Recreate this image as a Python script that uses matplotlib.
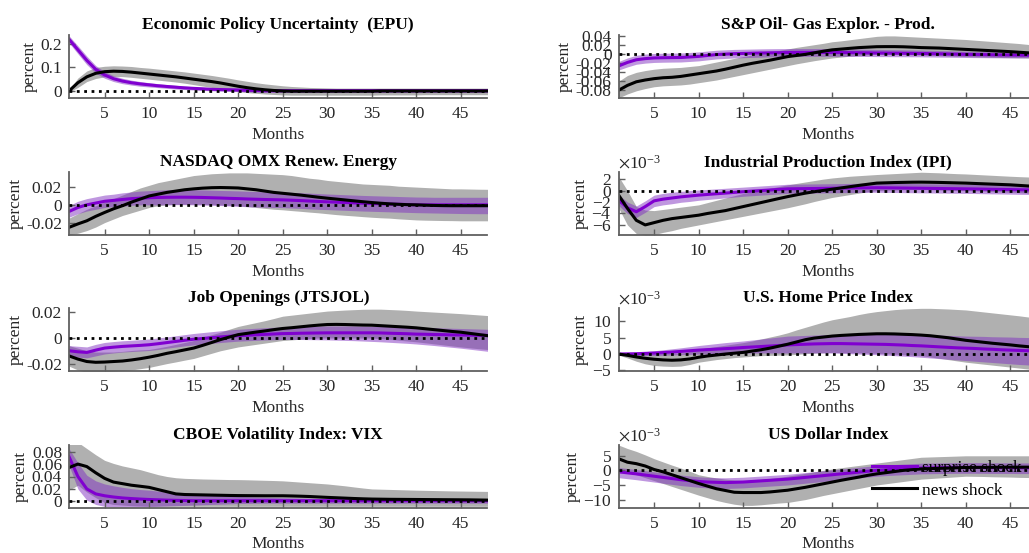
import matplotlib
matplotlib.use("Agg")
import matplotlib.pyplot as plt
import numpy as np
from matplotlib.ticker import FuncFormatter, ScalarFormatter

plt.rcParams['font.family'] = ['Liberation Serif', 'DejaVu Serif']
plt.rcParams['mathtext.fontset'] = 'stix'
plt.rcParams['axes.unicode_minus'] = False

months = np.arange(1, 49)

# ---- Economic Policy Uncertainty (EPU)
epu_news = [0.000, 0.035, 0.060, 0.075, 0.082, 0.084, 0.083, 0.080,
            0.076, 0.072, 0.068, 0.064, 0.060, 0.055, 0.050, 0.045,
            0.040, 0.034, 0.027, 0.020, 0.014, 0.009, 0.005, 0.002,
            0.000, -0.001, -0.001, -0.001, -0.001, -0.001, -0.001, -0.001,
            -0.001, -0.001, -0.001, 0.000, 0.000, 0.000, 0.000, 0.000,
            0.000, 0.000, 0.000, 0.000, 0.000, 0.000, 0.000, 0.000]
epu_news_hi = [0.005, 0.055, 0.085, 0.100, 0.105, 0.107, 0.106, 0.104,
               0.100, 0.097, 0.093, 0.089, 0.085, 0.081, 0.076, 0.071,
               0.066, 0.060, 0.054, 0.047, 0.041, 0.035, 0.030, 0.026,
               0.022, 0.019, 0.017, 0.015, 0.014, 0.013, 0.012, 0.012,
               0.012, 0.012, 0.012, 0.012, 0.012, 0.012, 0.012, 0.012,
               0.012, 0.012, 0.012, 0.012, 0.012, 0.012, 0.012, 0.012]
epu_news_lo = [-0.005, 0.015, 0.040, 0.053, 0.060, 0.062, 0.061, 0.058,
               0.054, 0.050, 0.046, 0.042, 0.038, 0.033, 0.027, 0.021,
               0.015, 0.010, 0.004, -0.002, -0.007, -0.010, -0.013, -0.015,
               -0.017, -0.018, -0.018, -0.018, -0.018, -0.018, -0.018, -0.018,
               -0.018, -0.018, -0.018, -0.017, -0.017, -0.017, -0.017, -0.017,
               -0.016, -0.016, -0.016, -0.016, -0.016, -0.016, -0.016, -0.016]
epu_surp = [0.220, 0.175, 0.130, 0.092, 0.068, 0.052, 0.042, 0.035,
            0.030, 0.026, 0.022, 0.019, 0.016, 0.013, 0.011, 0.009,
            0.007, 0.006, 0.005, 0.004, 0.003, 0.002, 0.001, 0.001,
            0.001, 0.001, 0.001, 0.001, 0.001, 0.001, 0.001, 0.001,
            0.001, 0.001, 0.001, 0.001, 0.001, 0.001, 0.001, 0.001,
            0.001, 0.001, 0.001, 0.001, 0.001, 0.001, 0.001, 0.001]
epu_surp_hi = [0.235, 0.192, 0.148, 0.108, 0.082, 0.065, 0.054, 0.046,
               0.040, 0.035, 0.031, 0.027, 0.024, 0.021, 0.018, 0.016,
               0.014, 0.013, 0.012, 0.011, 0.010, 0.009, 0.009, 0.008,
               0.008, 0.008, 0.008, 0.008, 0.008, 0.008, 0.008, 0.008,
               0.008, 0.008, 0.008, 0.008, 0.008, 0.008, 0.008, 0.008,
               0.008, 0.008, 0.008, 0.008, 0.008, 0.008, 0.008, 0.008]
epu_surp_lo = [0.205, 0.158, 0.112, 0.076, 0.054, 0.040, 0.031, 0.025,
               0.020, 0.017, 0.014, 0.011, 0.008, 0.006, 0.004, 0.002,
               0.001, -0.001, -0.002, -0.003, -0.004, -0.005, -0.006, -0.006,
               -0.006, -0.006, -0.006, -0.006, -0.006, -0.006, -0.006, -0.006,
               -0.006, -0.006, -0.006, -0.006, -0.006, -0.006, -0.006, -0.006,
               -0.006, -0.006, -0.006, -0.006, -0.006, -0.006, -0.006, -0.006]

# ---- NASDAQ OMX Renewable Energy
nas_news = [-0.0254, -0.0215, -0.0180, -0.0130, -0.0086, -0.0045, -0.0010, 0.0030,
            0.0065, 0.0100, 0.0120, 0.0140, 0.0155, 0.0170, 0.0180, 0.0188,
            0.0193, 0.0195, 0.0193, 0.0190, 0.0180, 0.0170, 0.0155, 0.0140,
            0.0130, 0.0120, 0.0110, 0.0098, 0.0086, 0.0075, 0.0065, 0.0055,
            0.0045, 0.0035, 0.0026, 0.0018, 0.0011, 0.0006, 0.0002, 0.0000,
            -0.0004, -0.0007, -0.0009, -0.0010, -0.0010, -0.0010, -0.0010, -0.0010]
nas_news_hi = [-0.0150, -0.0100, -0.0050, -0.0010, 0.0030, 0.0070, 0.0110, 0.0150,
               0.0190, 0.0220, 0.0250, 0.0270, 0.0290, 0.0310, 0.0330, 0.0340,
               0.0350, 0.0355, 0.0360, 0.0360, 0.0360, 0.0355, 0.0350, 0.0345,
               0.0340, 0.0330, 0.0315, 0.0300, 0.0290, 0.0275, 0.0265, 0.0255,
               0.0245, 0.0235, 0.0230, 0.0225, 0.0220, 0.0210, 0.0205, 0.0200,
               0.0195, 0.0190, 0.0185, 0.0180, 0.0180, 0.0178, 0.0176, 0.0175]
nas_news_lo = [-0.0340, -0.0320, -0.0290, -0.0250, -0.0200, -0.0160, -0.0120, -0.0090,
               -0.0060, -0.0030, -0.0010, 0.0000, 0.0005, 0.0007, 0.0007, 0.0005,
               0.0003, 0.0000, -0.0005, -0.0010, -0.0020, -0.0030, -0.0040, -0.0050,
               -0.0056, -0.0065, -0.0073, -0.0082, -0.0090, -0.0100, -0.0110, -0.0118,
               -0.0125, -0.0133, -0.0140, -0.0146, -0.0150, -0.0158, -0.0164, -0.0170,
               -0.0173, -0.0175, -0.0177, -0.0178, -0.0180, -0.0180, -0.0180, -0.0180]
nas_surp = [-0.0075, -0.0030, 0.0000, 0.0020, 0.0040, 0.0050, 0.0060, 0.0070,
            0.0075, 0.0080, 0.0083, 0.0085, 0.0086, 0.0086, 0.0085, 0.0083,
            0.0080, 0.0077, 0.0073, 0.0070, 0.0066, 0.0063, 0.0060, 0.0058,
            0.0056, 0.0052, 0.0048, 0.0043, 0.0038, 0.0034, 0.0030, 0.0026,
            0.0022, 0.0018, 0.0015, 0.0012, 0.0009, 0.0006, 0.0003, 0.0000,
            0.0000, 0.0000, 0.0000, 0.0000, 0.0000, 0.0000, 0.0000, 0.0000]
nas_surp_hi = [-0.0010, 0.0040, 0.0070, 0.0090, 0.0110, 0.0120, 0.0135, 0.0145,
               0.0155, 0.0160, 0.0165, 0.0170, 0.0170, 0.0170, 0.0170, 0.0168,
               0.0165, 0.0162, 0.0160, 0.0157, 0.0153, 0.0150, 0.0147, 0.0145,
               0.0143, 0.0140, 0.0136, 0.0132, 0.0127, 0.0122, 0.0118, 0.0114,
               0.0110, 0.0106, 0.0103, 0.0100, 0.0097, 0.0094, 0.0091, 0.0088,
               0.0087, 0.0085, 0.0085, 0.0085, 0.0085, 0.0085, 0.0085, 0.0085]
nas_surp_lo = [-0.0140, -0.0100, -0.0070, -0.0050, -0.0030, -0.0020, -0.0015, -0.0005,
               0.0000, 0.0000, 0.0000, 0.0000, 0.0002, 0.0002, 0.0000, -0.0002,
               -0.0005, -0.0008, -0.0013, -0.0017, -0.0021, -0.0024, -0.0027, -0.0030,
               -0.0031, -0.0036, -0.0040, -0.0046, -0.0051, -0.0054, -0.0058, -0.0062,
               -0.0066, -0.0070, -0.0073, -0.0076, -0.0079, -0.0082, -0.0085, -0.0088,
               -0.0090, -0.0092, -0.0094, -0.0096, -0.0098, -0.0099, -0.0100, -0.0100]

# ---- Job Openings (JTSJOL)
job_news = [-0.0140, -0.0165, -0.0184, -0.0190, -0.0188, -0.0184, -0.0180, -0.0172,
            -0.0162, -0.0150, -0.0136, -0.0120, -0.0107, -0.0093, -0.0079, -0.0058,
            -0.0036, -0.0013, 0.0007, 0.0026, 0.0036, 0.0046, 0.0055, 0.0065,
            0.0074, 0.0080, 0.0087, 0.0094, 0.0100, 0.0105, 0.0106, 0.0105,
            0.0103, 0.0101, 0.0100, 0.0096, 0.0092, 0.0088, 0.0084, 0.0079,
            0.0072, 0.0065, 0.0058, 0.0051, 0.0045, 0.0036, 0.0027, 0.0018]
job_news_hi = [-0.0060, -0.0080, -0.0100, -0.0110, -0.0110, -0.0110, -0.0105, -0.0098,
               -0.0093, -0.0090, -0.0078, -0.0065, -0.0050, -0.0035, -0.0020, 0.0002,
               0.0025, 0.0045, 0.0068, 0.0090, 0.0105, 0.0120, 0.0135, 0.0152,
               0.0170, 0.0178, 0.0186, 0.0194, 0.0202, 0.0210, 0.0214, 0.0218,
               0.0221, 0.0224, 0.0225, 0.0225, 0.0222, 0.0219, 0.0215, 0.0210,
               0.0206, 0.0202, 0.0198, 0.0194, 0.0190, 0.0185, 0.0180, 0.0175]
job_news_lo = [-0.0220, -0.0250, -0.0270, -0.0270, -0.0265, -0.0260, -0.0255, -0.0250,
               -0.0240, -0.0230, -0.0215, -0.0200, -0.0187, -0.0173, -0.0160, -0.0140,
               -0.0120, -0.0100, -0.0085, -0.0070, -0.0060, -0.0050, -0.0040, -0.0030,
               -0.0020, -0.0015, -0.0010, -0.0005, 0.0000, 0.0000, 0.0000, 0.0000,
               0.0000, 0.0000, 0.0000, -0.0005, -0.0010, -0.0017, -0.0024, -0.0030,
               -0.0038, -0.0046, -0.0054, -0.0062, -0.0070, -0.0077, -0.0084, -0.0090]
job_surp = [-0.0100, -0.0108, -0.0113, -0.0095, -0.0079, -0.0072, -0.0066, -0.0062,
            -0.0058, -0.0053, -0.0045, -0.0036, -0.0027, -0.0018, -0.0010, -0.0004,
            0.0002, 0.0008, 0.0013, 0.0018, 0.0021, 0.0025, 0.0028, 0.0031,
            0.0034, 0.0035, 0.0037, 0.0038, 0.0039, 0.0040, 0.0040, 0.0040,
            0.0040, 0.0040, 0.0040, 0.0039, 0.0037, 0.0035, 0.0033, 0.0030,
            0.0029, 0.0027, 0.0026, 0.0024, 0.0023, 0.0022, 0.0021, 0.0020]
job_surp_hi = [-0.0060, -0.0065, -0.0070, -0.0050, -0.0035, -0.0028, -0.0022, -0.0018,
               -0.0013, -0.0008, 0.0000, 0.0008, 0.0017, 0.0026, 0.0035, 0.0042,
               0.0049, 0.0056, 0.0062, 0.0068, 0.0072, 0.0076, 0.0080, 0.0083,
               0.0086, 0.0088, 0.0090, 0.0092, 0.0093, 0.0094, 0.0094, 0.0094,
               0.0094, 0.0093, 0.0092, 0.0091, 0.0090, 0.0088, 0.0086, 0.0084,
               0.0082, 0.0080, 0.0078, 0.0076, 0.0074, 0.0072, 0.0070, 0.0068]
job_surp_lo = [-0.0140, -0.0150, -0.0155, -0.0140, -0.0125, -0.0117, -0.0110, -0.0106,
               -0.0102, -0.0098, -0.0090, -0.0080, -0.0071, -0.0062, -0.0054, -0.0048,
               -0.0042, -0.0036, -0.0030, -0.0025, -0.0022, -0.0019, -0.0016, -0.0014,
               -0.0012, -0.0012, -0.0012, -0.0013, -0.0014, -0.0015, -0.0017, -0.0019,
               -0.0021, -0.0024, -0.0027, -0.0030, -0.0034, -0.0038, -0.0042, -0.0047,
               -0.0053, -0.0059, -0.0066, -0.0073, -0.0080, -0.0088, -0.0096, -0.0104]

# ---- CBOE Volatility Index: VIX
vix_news = [0.0544, 0.0600, 0.0560, 0.0460, 0.0370, 0.0310, 0.0285, 0.0260,
            0.0243, 0.0225, 0.0190, 0.0155, 0.0120, 0.0110, 0.0107, 0.0104,
            0.0101, 0.0098, 0.0095, 0.0093, 0.0092, 0.0091, 0.0090, 0.0090,
            0.0090, 0.0087, 0.0083, 0.0078, 0.0071, 0.0064, 0.0058, 0.0052,
            0.0046, 0.0041, 0.0037, 0.0035, 0.0033, 0.0032, 0.0031, 0.0030,
            0.0029, 0.0028, 0.0027, 0.0026, 0.0025, 0.0024, 0.0022, 0.0020]
vix_news_hi = [0.0950, 0.0950, 0.0850, 0.0750, 0.0660, 0.0610, 0.0570, 0.0540,
               0.0510, 0.0470, 0.0430, 0.0400, 0.0380, 0.0370, 0.0365, 0.0360,
               0.0357, 0.0354, 0.0351, 0.0350, 0.0347, 0.0343, 0.0339, 0.0335,
               0.0330, 0.0320, 0.0310, 0.0300, 0.0290, 0.0280, 0.0265, 0.0250,
               0.0232, 0.0215, 0.0200, 0.0196, 0.0192, 0.0188, 0.0184, 0.0180,
               0.0177, 0.0174, 0.0171, 0.0168, 0.0166, 0.0164, 0.0162, 0.0160]
vix_news_lo = [0.0180, 0.0260, 0.0150, 0.0060, -0.0020, -0.0050, -0.0060, -0.0070,
               -0.0075, -0.0080, -0.0080, -0.0080, -0.0080, -0.0080, -0.0080, -0.0080,
               -0.0080, -0.0080, -0.0080, -0.0080, -0.0080, -0.0080, -0.0080, -0.0080,
               -0.0080, -0.0080, -0.0080, -0.0080, -0.0080, -0.0080, -0.0080, -0.0080,
               -0.0080, -0.0080, -0.0080, -0.0080, -0.0080, -0.0080, -0.0080, -0.0080,
               -0.0080, -0.0080, -0.0080, -0.0080, -0.0080, -0.0080, -0.0080, -0.0080]
vix_surp = [0.0720, 0.0400, 0.0200, 0.0120, 0.0090, 0.0070, 0.0055, 0.0045,
            0.0037, 0.0030, 0.0025, 0.0020, 0.0016, 0.0013, 0.0010, 0.0010,
            0.0010, 0.0010, 0.0010, 0.0010, 0.0010, 0.0010, 0.0010, 0.0010,
            0.0010, 0.0010, 0.0010, 0.0010, 0.0010, 0.0010, 0.0010, 0.0010,
            0.0010, 0.0010, 0.0010, 0.0010, 0.0010, 0.0010, 0.0010, 0.0010,
            0.0010, 0.0010, 0.0010, 0.0010, 0.0010, 0.0010, 0.0010, 0.0010]
vix_surp_hi = [0.0850, 0.0620, 0.0420, 0.0330, 0.0280, 0.0250, 0.0225, 0.0205,
               0.0190, 0.0180, 0.0165, 0.0150, 0.0135, 0.0125, 0.0115, 0.0108,
               0.0101, 0.0094, 0.0087, 0.0080, 0.0075, 0.0070, 0.0066, 0.0062,
               0.0058, 0.0055, 0.0052, 0.0050, 0.0048, 0.0046, 0.0045, 0.0045,
               0.0045, 0.0045, 0.0045, 0.0045, 0.0045, 0.0045, 0.0045, 0.0045,
               0.0045, 0.0045, 0.0045, 0.0045, 0.0045, 0.0045, 0.0045, 0.0045]
vix_surp_lo = [0.0580, 0.0200, 0.0020, -0.0050, -0.0080, -0.0090, -0.0090, -0.0090,
               -0.0088, -0.0085, -0.0080, -0.0075, -0.0070, -0.0065, -0.0060, -0.0055,
               -0.0050, -0.0045, -0.0040, -0.0035, -0.0033, -0.0031, -0.0030, -0.0030,
               -0.0030, -0.0030, -0.0030, -0.0030, -0.0030, -0.0030, -0.0030, -0.0030,
               -0.0030, -0.0030, -0.0030, -0.0030, -0.0030, -0.0030, -0.0030, -0.0030,
               -0.0030, -0.0030, -0.0030, -0.0030, -0.0030, -0.0030, -0.0030, -0.0030]

# ---- S&P Oil & Gas Exploration & Production
oil_news = [-0.0800, -0.0690, -0.0610, -0.0570, -0.0540, -0.0520, -0.0510, -0.0490,
            -0.0460, -0.0430, -0.0400, -0.0370, -0.0330, -0.0285, -0.0240, -0.0200,
            -0.0165, -0.0130, -0.0090, -0.0050, -0.0025, 0.0000, 0.0035, 0.0070,
            0.0100, 0.0117, 0.0134, 0.0150, 0.0160, 0.0170, 0.0172, 0.0172,
            0.0168, 0.0160, 0.0150, 0.0145, 0.0140, 0.0130, 0.0120, 0.0110,
            0.0100, 0.0090, 0.0080, 0.0070, 0.0060, 0.0047, 0.0034, 0.0020]
oil_news_hi = [-0.0600, -0.0470, -0.0400, -0.0360, -0.0330, -0.0310, -0.0300, -0.0290,
               -0.0270, -0.0250, -0.0210, -0.0170, -0.0130, -0.0090, -0.0050, -0.0015,
               0.0020, 0.0050, 0.0085, 0.0120, 0.0155, 0.0185, 0.0215, 0.0245,
               0.0280, 0.0300, 0.0325, 0.0350, 0.0375, 0.0400, 0.0410, 0.0410,
               0.0400, 0.0390, 0.0380, 0.0370, 0.0360, 0.0350, 0.0340, 0.0330,
               0.0315, 0.0300, 0.0285, 0.0270, 0.0255, 0.0240, 0.0220, 0.0200]
oil_news_lo = [-0.0970, -0.0880, -0.0810, -0.0760, -0.0720, -0.0700, -0.0690, -0.0680,
               -0.0660, -0.0630, -0.0600, -0.0570, -0.0530, -0.0490, -0.0450, -0.0410,
               -0.0370, -0.0330, -0.0290, -0.0250, -0.0210, -0.0175, -0.0140, -0.0110,
               -0.0080, -0.0060, -0.0040, -0.0025, -0.0010, 0.0000, 0.0000, 0.0000,
               -0.0005, -0.0010, -0.0015, -0.0020, -0.0028, -0.0036, -0.0044, -0.0050,
               -0.0055, -0.0060, -0.0065, -0.0070, -0.0073, -0.0076, -0.0078, -0.0080]
oil_surp = [-0.0260, -0.0180, -0.0120, -0.0095, -0.0080, -0.0075, -0.0072, -0.0070,
            -0.0058, -0.0045, -0.0025, -0.0005, 0.0005, 0.0015, 0.0020, 0.0025,
            0.0030, 0.0034, 0.0037, 0.0040, 0.0042, 0.0043, 0.0043, 0.0042,
            0.0041, 0.0040, 0.0038, 0.0036, 0.0033, 0.0030, 0.0028, 0.0026,
            0.0024, 0.0022, 0.0020, 0.0016, 0.0012, 0.0008, 0.0004, 0.0000,
            -0.0003, -0.0006, -0.0009, -0.0012, -0.0014, -0.0016, -0.0018, -0.0020]
oil_surp_hi = [-0.0160, -0.0080, -0.0020, 0.0005, 0.0020, 0.0025, 0.0028, 0.0030,
               0.0042, 0.0055, 0.0073, 0.0092, 0.0101, 0.0110, 0.0114, 0.0118,
               0.0122, 0.0125, 0.0127, 0.0129, 0.0130, 0.0130, 0.0130, 0.0128,
               0.0126, 0.0124, 0.0121, 0.0118, 0.0114, 0.0110, 0.0107, 0.0104,
               0.0101, 0.0098, 0.0095, 0.0090, 0.0085, 0.0080, 0.0075, 0.0070,
               0.0066, 0.0062, 0.0058, 0.0054, 0.0051, 0.0048, 0.0045, 0.0042]
oil_surp_lo = [-0.0350, -0.0280, -0.0220, -0.0195, -0.0180, -0.0175, -0.0172, -0.0170,
               -0.0158, -0.0145, -0.0123, -0.0102, -0.0091, -0.0080, -0.0074, -0.0068,
               -0.0062, -0.0057, -0.0053, -0.0049, -0.0046, -0.0044, -0.0044, -0.0044,
               -0.0044, -0.0044, -0.0045, -0.0046, -0.0048, -0.0050, -0.0051, -0.0052,
               -0.0053, -0.0054, -0.0055, -0.0058, -0.0061, -0.0064, -0.0067, -0.0070,
               -0.0072, -0.0074, -0.0076, -0.0078, -0.0079, -0.0080, -0.0081, -0.0082]

# ---- Industrial Production Index (IPI), in units of 1e-3
ipi_news = [-0.76, -3.10, -5.20, -6.00, -5.60, -5.20, -4.90, -4.70,
            -4.50, -4.30, -4.00, -3.75, -3.50, -3.15, -2.80, -2.45,
            -2.10, -1.75, -1.40, -1.06, -0.75, -0.45, -0.20, 0.02,
            0.24, 0.46, 0.68, 0.90, 1.10, 1.30, 1.35, 1.40,
            1.43, 1.46, 1.47, 1.45, 1.42, 1.38, 1.34, 1.30,
            1.24, 1.18, 1.12, 1.06, 1.00, 0.90, 0.80, 0.70]
ipi_news_hi = [2.50, 0.00, -2.80, -3.40, -3.50, -3.30, -3.10, -2.90,
               -2.70, -2.50, -2.10, -1.70, -1.30, -0.90, -0.50, -0.20,
               0.10, 0.40, 0.70, 1.00, 1.25, 1.50, 1.75, 2.00,
               2.20, 2.35, 2.50, 2.60, 2.70, 2.80, 2.88, 2.96,
               3.04, 3.12, 3.20, 3.15, 3.10, 3.02, 2.95, 2.90,
               2.82, 2.74, 2.66, 2.58, 2.50, 2.43, 2.37, 2.30]
ipi_news_lo = [-3.00, -6.00, -7.50, -7.76, -7.70, -7.30, -7.00, -6.60,
               -6.30, -6.00, -5.70, -5.40, -5.10, -4.80, -4.50, -4.20,
               -3.90, -3.60, -3.30, -3.00, -2.65, -2.30, -1.90, -1.55,
               -1.20, -0.95, -0.70, -0.45, -0.20, 0.00, 0.05, 0.10,
               0.15, 0.18, 0.20, 0.15, 0.10, 0.05, 0.00, 0.00,
               -0.05, -0.10, -0.20, -0.25, -0.30, -0.35, -0.45, -0.50]
ipi_surp = [-1.65, -3.00, -3.70, -2.80, -1.80, -1.50, -1.30, -1.10,
            -0.95, -0.80, -0.68, -0.56, -0.44, -0.32, -0.20, -0.10,
            0.00, 0.10, 0.20, 0.30, 0.32, 0.34, 0.36, 0.38,
            0.40, 0.42, 0.44, 0.46, 0.48, 0.50, 0.48, 0.46,
            0.44, 0.42, 0.40, 0.38, 0.36, 0.34, 0.32, 0.30,
            0.28, 0.25, 0.22, 0.20, 0.17, 0.14, 0.12, 0.10]
ipi_surp_hi = [-0.70, -2.00, -2.70, -1.80, -0.80, -0.50, -0.30, -0.15,
               0.00, 0.10, 0.20, 0.30, 0.40, 0.50, 0.60, 0.70,
               0.80, 0.90, 1.00, 1.10, 1.12, 1.14, 1.16, 1.18,
               1.20, 1.22, 1.24, 1.26, 1.28, 1.30, 1.28, 1.26,
               1.24, 1.22, 1.20, 1.18, 1.16, 1.14, 1.12, 1.10,
               1.08, 1.05, 1.02, 1.00, 0.97, 0.94, 0.92, 0.90]
ipi_surp_lo = [-2.60, -4.00, -4.70, -3.80, -2.80, -2.50, -2.30, -2.05,
               -1.90, -1.70, -1.56, -1.42, -1.28, -1.14, -1.00, -0.90,
               -0.80, -0.70, -0.60, -0.50, -0.48, -0.46, -0.44, -0.42,
               -0.40, -0.38, -0.36, -0.34, -0.32, -0.30, -0.32, -0.34,
               -0.36, -0.38, -0.40, -0.42, -0.44, -0.46, -0.48, -0.50,
               -0.52, -0.55, -0.58, -0.60, -0.63, -0.66, -0.68, -0.70]

# ---- U.S. Home Price Index, in units of 1e-3
hpi_news = [0.00, -0.40, -0.90, -1.30, -1.60, -1.80, -1.90, -1.80,
            -1.50, -1.00, -0.60, -0.30, 0.00, 0.25, 0.50, 0.90,
            1.30, 1.80, 2.40, 3.00, 3.70, 4.40, 4.90, 5.20,
            5.50, 5.70, 5.85, 6.00, 6.10, 6.20, 6.20, 6.15,
            6.05, 5.95, 5.80, 5.60, 5.30, 5.00, 4.60, 4.20,
            3.90, 3.60, 3.30, 3.05, 2.80, 2.50, 2.25, 2.00]
hpi_news_hi = [0.30, 0.30, 0.25, 0.20, 0.20, 0.20, 0.25, 0.30,
               0.80, 1.50, 1.90, 2.30, 2.70, 3.10, 3.50, 4.00,
               4.60, 5.20, 5.80, 6.50, 7.40, 8.20, 9.00, 9.80,
               10.50, 11.00, 11.50, 12.10, 12.60, 13.00, 13.30, 13.60,
               13.80, 13.90, 14.00, 14.00, 13.90, 13.80, 13.65, 13.50,
               13.20, 12.90, 12.60, 12.30, 12.00, 11.70, 11.35, 11.00]
hpi_news_lo = [-0.30, -1.20, -2.20, -3.00, -3.50, -3.70, -3.80, -3.70,
               -3.20, -2.50, -2.10, -1.70, -1.40, -1.10, -0.90, -0.70,
               -0.50, -0.40, -0.35, -0.30, -0.10, 0.10, 0.30, 0.40,
               0.50, 0.45, 0.40, 0.35, 0.30, 0.20, 0.10, -0.05,
               -0.20, -0.35, -0.50, -0.90, -1.30, -1.70, -2.10, -2.50,
               -2.80, -3.10, -3.40, -3.70, -4.00, -4.30, -4.60, -5.00]
hpi_surp = [0.00, 0.05, 0.10, 0.20, 0.30, 0.45, 0.60, 0.80,
            1.00, 1.20, 1.35, 1.50, 1.65, 1.80, 2.00, 2.15,
            2.30, 2.45, 2.60, 2.80, 2.90, 3.00, 3.10, 3.15,
            3.20, 3.20, 3.15, 3.10, 3.05, 3.00, 2.95, 2.85,
            2.75, 2.60, 2.50, 2.35, 2.20, 2.05, 1.90, 1.80,
            1.70, 1.55, 1.45, 1.30, 1.20, 1.10, 1.00, 0.90]
hpi_surp_hi = [0.10, 0.30, 0.50, 0.75, 1.00, 1.30, 1.60, 1.90,
               2.25, 2.60, 2.90, 3.20, 3.50, 3.75, 4.00, 4.30,
               4.60, 4.90, 5.20, 5.50, 5.60, 5.70, 5.80, 5.90,
               6.00, 6.05, 6.10, 6.15, 6.20, 6.20, 6.20, 6.15,
               6.10, 6.05, 6.00, 5.90, 5.80, 5.70, 5.60, 5.50,
               5.45, 5.40, 5.30, 5.25, 5.20, 5.10, 5.05, 5.00]
hpi_surp_lo = [-0.10, -0.25, -0.40, -0.45, -0.50, -0.40, -0.30, -0.20,
               -0.10, 0.00, 0.05, 0.10, 0.15, 0.25, 0.30, 0.30,
               0.30, 0.30, 0.30, 0.30, 0.30, 0.30, 0.30, 0.30,
               0.30, 0.20, 0.10, 0.00, -0.10, -0.20, -0.35, -0.50,
               -0.65, -0.80, -1.00, -1.20, -1.40, -1.60, -1.80, -2.00,
               -2.20, -2.40, -2.60, -2.80, -3.00, -3.20, -3.35, -3.50]

# ---- US Dollar Index, in units of 1e-3
usd_news = [4.00, 2.80, 2.30, 1.50, 0.30, -0.50, -1.50, -2.50,
            -3.50, -4.50, -5.40, -6.30, -6.90, -7.50, -7.60, -7.60,
            -7.60, -7.40, -7.10, -6.80, -6.30, -5.80, -5.20, -4.60,
            -4.00, -3.40, -2.85, -2.30, -1.70, -1.20, -0.80, -0.40,
            0.00, 0.25, 0.50, 0.60, 0.70, 0.80, 0.90, 1.00,
            1.02, 1.04, 1.06, 1.08, 1.10, 1.10, 1.10, 1.10]
usd_news_hi = [8.70, 7.50, 6.50, 5.30, 4.00, 2.90, 1.80, 0.80,
               -0.30, -1.50, -2.10, -2.60, -3.00, -3.30, -3.50, -3.40,
               -3.10, -2.80, -2.40, -2.00, -1.50, -1.00, -0.50, 0.00,
               0.50, 0.90, 1.30, 1.70, 2.10, 2.50, 2.90, 3.30,
               3.70, 4.10, 4.50, 4.60, 4.70, 4.80, 4.90, 5.00,
               5.00, 5.00, 5.00, 5.00, 5.00, 5.00, 5.00, 5.00]
usd_news_lo = [0.00, -0.70, -1.50, -2.50, -3.50, -4.50, -5.50, -6.50,
               -7.50, -8.50, -9.40, -10.30, -11.00, -11.60, -12.00, -12.00,
               -11.80, -11.50, -11.20, -11.00, -10.50, -10.00, -9.30, -8.60,
               -8.00, -7.40, -6.80, -6.20, -5.60, -5.00, -4.60, -4.20,
               -3.80, -3.40, -3.00, -2.80, -2.60, -2.40, -2.20, -2.00,
               -2.05, -2.10, -2.20, -2.25, -2.30, -2.40, -2.45, -2.50]
usd_surp = [-0.50, -0.85, -1.20, -1.60, -2.00, -2.40, -2.80, -3.20,
            -3.50, -3.80, -4.00, -4.10, -4.20, -4.10, -4.00, -3.80,
            -3.60, -3.40, -3.20, -3.00, -2.70, -2.40, -2.10, -1.80,
            -1.50, -1.20, -0.90, -0.60, -0.30, 0.00, 0.20, 0.35,
            0.50, 0.65, 0.80, 0.85, 0.90, 0.95, 1.00, 1.00,
            1.00, 1.00, 0.95, 0.95, 0.95, 0.90, 0.90, 0.90]
usd_surp_hi = [1.00, 0.65, 0.30, -0.10, -0.50, -0.85, -1.20, -1.60,
               -1.90, -2.20, -2.40, -2.50, -2.55, -2.45, -2.35, -2.15,
               -1.95, -1.75, -1.55, -1.35, -1.05, -0.75, -0.45, -0.15,
               0.15, 0.45, 0.75, 1.05, 1.35, 1.65, 1.85, 2.00,
               2.15, 2.30, 2.45, 2.50, 2.55, 2.60, 2.65, 2.65,
               2.65, 2.65, 2.60, 2.60, 2.60, 2.55, 2.55, 2.55]
usd_surp_lo = [-2.50, -2.85, -3.20, -3.60, -4.00, -4.40, -4.80, -5.20,
               -5.50, -5.80, -6.00, -6.10, -6.20, -6.10, -6.00, -5.80,
               -5.60, -5.40, -5.20, -5.00, -4.70, -4.40, -4.10, -3.80,
               -3.50, -3.20, -2.90, -2.60, -2.30, -2.00, -1.80, -1.65,
               -1.50, -1.35, -1.20, -1.15, -1.10, -1.05, -1.00, -1.00,
               -1.00, -1.00, -1.05, -1.05, -1.05, -1.10, -1.10, -1.10]

titles = ['Economic Policy Uncertainty  (EPU)', 'S&P Oil- Gas Explor. - Prod.',
          'NASDAQ OMX Renew. Energy', 'Industrial Production Index (IPI)',
          'Job Openings (JTSJOL)', 'U.S. Home Price Index',
          'CBOE Volatility Index: VIX', 'US Dollar Index']

# (news, news_lo, news_hi, surprise, surprise_lo, surprise_hi, scale)
panels = [
    (epu_news, epu_news_lo, epu_news_hi, epu_surp, epu_surp_lo, epu_surp_hi, 1.0),
    (oil_news, oil_news_lo, oil_news_hi, oil_surp, oil_surp_lo, oil_surp_hi, 1.0),
    (nas_news, nas_news_lo, nas_news_hi, nas_surp, nas_surp_lo, nas_surp_hi, 1.0),
    (ipi_news, ipi_news_lo, ipi_news_hi, ipi_surp, ipi_surp_lo, ipi_surp_hi, 1e-3),
    (job_news, job_news_lo, job_news_hi, job_surp, job_surp_lo, job_surp_hi, 1.0),
    (hpi_news, hpi_news_lo, hpi_news_hi, hpi_surp, hpi_surp_lo, hpi_surp_hi, 1e-3),
    (vix_news, vix_news_lo, vix_news_hi, vix_surp, vix_surp_lo, vix_surp_hi, 1.0),
    (usd_news, usd_news_lo, usd_news_hi, usd_surp, usd_surp_lo, usd_surp_hi, 1e-3),
]

yticks = [[0, 0.1, 0.2], [-0.08, -0.06, -0.04, -0.02, 0, 0.02, 0.04],
          [-0.02, 0, 0.02], [-6e-3, -4e-3, -2e-3, 0, 2e-3],
          [-0.02, 0, 0.02], [-5e-3, 0, 5e-3, 10e-3],
          [0, 0.02, 0.04, 0.06, 0.08], [-10e-3, -5e-3, 0, 5e-3]]
ylims = [(-0.03, 0.238), (-0.097, 0.043), (-0.034, 0.037), (-7.76e-3, 3.24e-3),
         (-0.0258, 0.0234), (-5.2e-3, 14.1e-3), (-0.0107, 0.0907), (-12.9e-3, 8.7e-3)]

gray_band = '#b0b0b0'
purple_band = '#8030c0'
purple_line = '#8000d0'
axis_col = '#606060'
text_col = '#262626'

fig = plt.figure(figsize=(10.29, 5.53), dpi=100)

W, H = 1029, 553
col_left = [69, 618.5]
col_width = 418.5
row_bottom = [98, 235, 371, 508]
ax_h = 63

for i, (news, nlo, nhi, surp, slo, shi, sc) in enumerate(panels):
    r, c = divmod(i, 2)
    ax = fig.add_axes([col_left[c] / W, 1 - row_bottom[r] / H, col_width / W, ax_h / H])

    ax.fill_between(months, np.array(nlo) * sc, np.array(nhi) * sc,
                    color=gray_band, lw=0, zorder=1)
    ax.fill_between(months, np.array(slo) * sc, np.array(shi) * sc,
                    color=purple_band, alpha=0.5, lw=0, zorder=1.1)
    ax.plot(months, np.array(surp) * sc, color=purple_line, lw=2.2,
            zorder=2, label='surprise shock')
    ax.plot(months, np.array(news) * sc, color='black', lw=2.2,
            zorder=2.1, label='news shock')
    ax.axhline(0, color='black', ls=':', lw=2, zorder=3)

    ax.set_xlim(1, 48)
    ax.set_ylim(*ylims[i])
    ax.set_xticks(range(5, 50, 5))
    ax.set_yticks(yticks[i])

    if sc != 1.0:
        # fixed x10^-3 multiplier shown above the axis
        fmt = ScalarFormatter(useMathText=True)
        fmt.set_powerlimits((-3, -3))
        ax.yaxis.set_major_formatter(fmt)
        ax.yaxis.get_offset_text().set_fontsize(12.5)
        ax.yaxis.get_offset_text().set_color(text_col)
    else:
        ax.yaxis.set_major_formatter(FuncFormatter(lambda v, p: '%g' % round(v, 6)))

    for s in ['top', 'right']:
        ax.spines[s].set_visible(False)
    for s in ['left', 'bottom']:
        ax.spines[s].set_color(axis_col)
        ax.spines[s].set_linewidth(1.3)
    ax.tick_params(direction='in', length=4, width=1, color=axis_col,
                   labelsize=12.5, labelcolor=text_col)
    ax.tick_params(axis='x', pad=6)
    ax.tick_params(axis='y', pad=5)

    ax.set_title(titles[i], fontsize=12.5, fontweight='bold', pad=4)
    ax.set_xlabel('Months', fontsize=12.5, color=text_col, labelpad=3)
    ax.set_ylabel('percent', fontsize=12.5, color=text_col, labelpad=2)

    if i == 7:
        leg = ax.legend(loc='upper left', bbox_to_anchor=(0.606, 0.76),
                        frameon=False, fontsize=12.5, handlelength=2.6,
                        handletextpad=0.3, labelspacing=0.35,
                        borderpad=0, borderaxespad=0)
        leg.set_zorder(2.5)

fig.savefig('out.png', dpi=100)
